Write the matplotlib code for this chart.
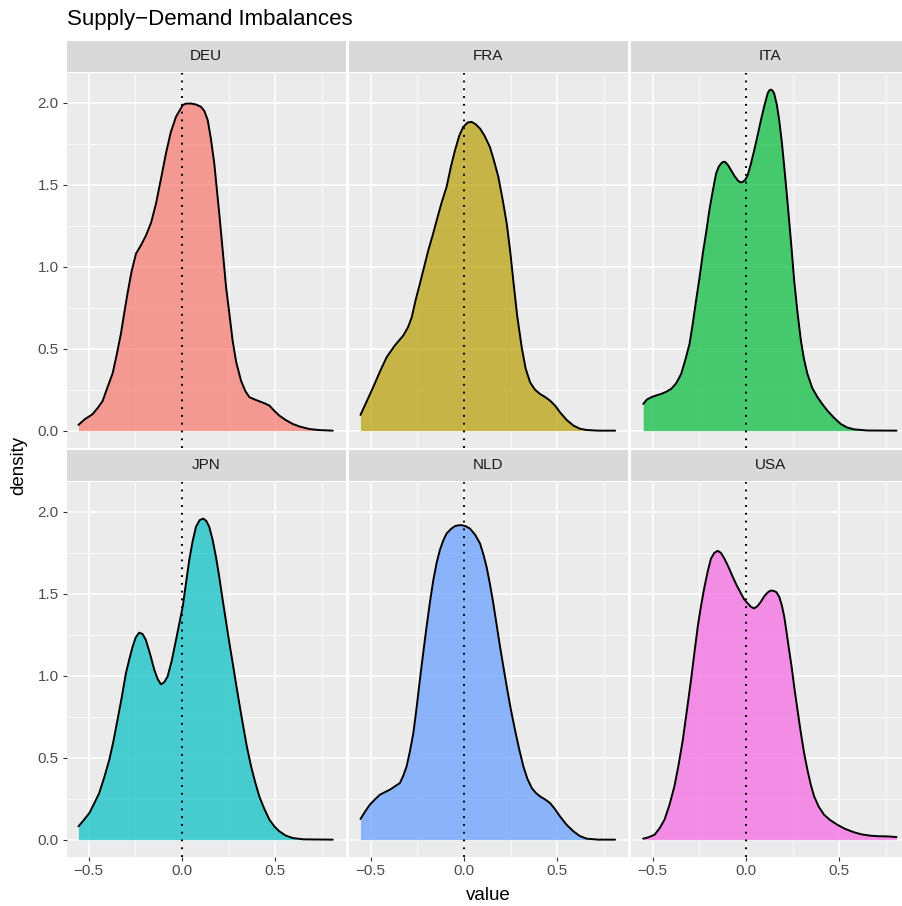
#!/usr/bin/env python3
"""Faceted density plot of supply-demand imbalances, one panel per country."""

import matplotlib

matplotlib.use("Agg")
import matplotlib.pyplot as plt
from matplotlib.ticker import FixedLocator

plt.rcParams["font.family"] = ["Liberation Sans", "DejaVu Sans"]

COUNTRIES = ["DEU", "FRA", "ITA", "JPN", "NLD", "USA"]
FILLS = ["#F8766D", "#B79F00", "#00BA38", "#00BFC4", "#619CFF", "#F564E3"]

deu_x = [-0.554, -0.52, -0.479, -0.45, -0.425, -0.40, -0.371, -0.35, -0.327, -0.31,
         -0.291, -0.27, -0.246, -0.22, -0.193, -0.165, -0.139, -0.11, -0.086, -0.06,
         -0.032, 0.004, 0.02, 0.048, 0.075, 0.102, 0.12, 0.138, 0.155, 0.173,
         0.186, 0.200, 0.218, 0.236, 0.25, 0.271, 0.29, 0.316, 0.34, 0.361,
         0.39, 0.414, 0.44, 0.468, 0.495, 0.521, 0.555, 0.593, 0.63, 0.682,
         0.73, 0.807]
deu_d = [0.035, 0.07, 0.10, 0.14, 0.18, 0.26, 0.35, 0.46, 0.59, 0.71,
         0.84, 0.97, 1.08, 1.13, 1.19, 1.27, 1.385, 1.55, 1.69, 1.82,
         1.915, 1.986, 1.995, 1.996, 1.99, 1.976, 1.95, 1.894, 1.78, 1.63,
         1.48, 1.32, 1.10, 0.876, 0.75, 0.55, 0.42, 0.305, 0.24, 0.204,
         0.19, 0.179, 0.168, 0.153, 0.12, 0.092, 0.065, 0.041, 0.025, 0.010,
         0.004, 0.0]

fra_x = [-0.554, -0.52, -0.486, -0.45, -0.414, -0.37, -0.325, -0.30, -0.28, -0.258,
         -0.236, -0.213, -0.191, -0.168, -0.146, -0.12, -0.093, -0.07, -0.048, -0.025,
         -0.004, 0.02, 0.041, 0.062, 0.086, 0.11, 0.139, 0.16, 0.184, 0.207,
         0.229, 0.247, 0.264, 0.285, 0.309, 0.33, 0.354, 0.38, 0.407, 0.435,
         0.461, 0.49, 0.514, 0.55, 0.586, 0.62, 0.657, 0.72, 0.809]
fra_d = [0.096, 0.18, 0.265, 0.36, 0.448, 0.52, 0.58, 0.63, 0.69, 0.80,
         0.896, 1.00, 1.10, 1.19, 1.283, 1.39, 1.487, 1.61, 1.71, 1.80,
         1.853, 1.88, 1.884, 1.87, 1.843, 1.80, 1.73, 1.65, 1.548, 1.41,
         1.263, 1.10, 0.916, 0.70, 0.509, 0.38, 0.295, 0.25, 0.224, 0.205,
         0.183, 0.15, 0.112, 0.065, 0.031, 0.012, 0.004, 0.0, 0.0]

ita_x = [-0.55, -0.53, -0.507, -0.48, -0.454, -0.427, -0.40, -0.373, -0.347, -0.325,
         -0.302, -0.285, -0.267, -0.249, -0.231, -0.213, -0.196, -0.178, -0.16, -0.146,
         -0.133, -0.122, -0.112, -0.096, -0.08, -0.062, -0.044, -0.031, -0.018, -0.004,
         0.009, 0.027, 0.044, 0.062, 0.08, 0.098, 0.116, 0.124, 0.133, 0.142,
         0.151, 0.165, 0.178, 0.192, 0.205, 0.218, 0.231, 0.245, 0.258, 0.276,
         0.294, 0.31, 0.329, 0.355, 0.383, 0.41, 0.436, 0.47, 0.507, 0.54,
         0.578, 0.65, 0.806]
ita_d = [0.163, 0.19, 0.204, 0.215, 0.224, 0.237, 0.255, 0.29, 0.346, 0.43,
         0.53, 0.65, 0.794, 0.93, 1.08, 1.21, 1.344, 1.46, 1.568, 1.61,
         1.63, 1.64, 1.64, 1.62, 1.59, 1.555, 1.527, 1.515, 1.517, 1.53,
         1.558, 1.63, 1.71, 1.80, 1.894, 1.98, 2.057, 2.075, 2.081, 2.075,
         2.057, 1.99, 1.894, 1.76, 1.609, 1.45, 1.283, 1.10, 0.916, 0.72,
         0.55, 0.44, 0.346, 0.26, 0.204, 0.16, 0.122, 0.08, 0.041, 0.02,
         0.008, 0.001, 0.0]

jpn_x = [-0.554, -0.525, -0.496, -0.47, -0.443, -0.416, -0.389, -0.367, -0.345, -0.322,
         -0.30, -0.282, -0.264, -0.247, -0.229, -0.211, -0.193, -0.17, -0.148, -0.13,
         -0.113, -0.095, -0.077, -0.055, -0.032, -0.014, 0.004, 0.021, 0.039, 0.057,
         0.075, 0.095, 0.114, 0.13, 0.146, 0.164, 0.182, 0.2, 0.218, 0.236,
         0.254, 0.272, 0.289, 0.307, 0.325, 0.347, 0.37, 0.392, 0.414, 0.44,
         0.468, 0.495, 0.521, 0.555, 0.593, 0.65, 0.807]
jpn_d = [0.081, 0.12, 0.162, 0.22, 0.284, 0.38, 0.487, 0.60, 0.731, 0.87,
         1.015, 1.10, 1.178, 1.235, 1.263, 1.255, 1.218, 1.13, 1.036, 0.98,
         0.948, 0.96, 0.995, 1.09, 1.218, 1.32, 1.421, 1.56, 1.706, 1.82,
         1.909, 1.95, 1.959, 1.945, 1.909, 1.83, 1.726, 1.60, 1.462, 1.33,
         1.198, 1.075, 0.954, 0.83, 0.711, 0.57, 0.447, 0.35, 0.264, 0.19,
         0.122, 0.08, 0.051, 0.025, 0.010, 0.002, 0.0]

nld_x = [-0.554, -0.53, -0.504, -0.477, -0.45, -0.423, -0.396, -0.37, -0.343, -0.325,
         -0.307, -0.289, -0.271, -0.254, -0.236, -0.218, -0.2, -0.182, -0.164, -0.146,
         -0.129, -0.111, -0.093, -0.07, -0.048, -0.03, -0.013, 0.01, 0.032, 0.06,
         0.086, 0.104, 0.121, 0.139, 0.157, 0.175, 0.193, 0.211, 0.229, 0.25,
         0.273, 0.296, 0.318, 0.34, 0.363, 0.385, 0.407, 0.435, 0.461, 0.488,
         0.514, 0.55, 0.586, 0.62, 0.657, 0.72, 0.809]
nld_d = [0.126, 0.17, 0.213, 0.245, 0.274, 0.29, 0.305, 0.325, 0.345, 0.39,
         0.447, 0.54, 0.65, 0.80, 0.975, 1.14, 1.30, 1.45, 1.584, 1.69,
         1.767, 1.825, 1.868, 1.895, 1.913, 1.918, 1.919, 1.912, 1.898, 1.86,
         1.807, 1.74, 1.665, 1.56, 1.442, 1.31, 1.178, 1.055, 0.934, 0.80,
         0.67, 0.55, 0.447, 0.37, 0.315, 0.285, 0.264, 0.245, 0.223, 0.185,
         0.142, 0.09, 0.051, 0.022, 0.006, 0.0, 0.0]

usa_x = [-0.55, -0.52, -0.489, -0.462, -0.436, -0.41, -0.383, -0.36, -0.338, -0.316,
         -0.294, -0.276, -0.258, -0.24, -0.222, -0.204, -0.187, -0.169, -0.151, -0.134,
         -0.116, -0.094, -0.071, -0.049, -0.027, -0.009, 0.009, 0.027, 0.044, 0.062,
         0.08, 0.098, 0.116, 0.132, 0.148, 0.163, 0.178, 0.192, 0.205, 0.218,
         0.231, 0.245, 0.258, 0.276, 0.294, 0.311, 0.329, 0.347, 0.365, 0.39,
         0.418, 0.45, 0.489, 0.53, 0.578, 0.62, 0.667, 0.71, 0.756, 0.806]
usa_d = [0.006, 0.015, 0.03, 0.07, 0.122, 0.21, 0.325, 0.46, 0.609, 0.79,
         0.975, 1.14, 1.30, 1.43, 1.543, 1.64, 1.716, 1.75, 1.762, 1.75,
         1.716, 1.665, 1.604, 1.55, 1.503, 1.465, 1.442, 1.42, 1.411, 1.425,
         1.452, 1.485, 1.508, 1.52, 1.518, 1.51, 1.482, 1.43, 1.36, 1.26,
         1.157, 1.05, 0.934, 0.79, 0.65, 0.53, 0.426, 0.335, 0.264, 0.2,
         0.152, 0.12, 0.091, 0.066, 0.045, 0.032, 0.024, 0.021, 0.020, 0.016]

SERIES = {
    "DEU": (deu_x, deu_d),
    "FRA": (fra_x, fra_d),
    "ITA": (ita_x, ita_d),
    "JPN": (jpn_x, jpn_d),
    "NLD": (nld_x, nld_d),
    "USA": (usa_x, usa_d),
}

X_MAJOR = [-0.5, 0.0, 0.5]
X_MINOR = [-0.25, 0.25, 0.75]
X_LABELS = ["\u22120.5", "0.0", "0.5"]
Y_MAJOR = [0.0, 0.5, 1.0, 1.5, 2.0]
Y_MINOR = [0.25, 0.75, 1.25, 1.75]
Y_LABELS = ["0.0", "0.5", "1.0", "1.5", "2.0"]

W, H = 902, 906
PANEL_LEFT = [66.5, 348.5, 630.5]
PANEL_W = 279.5
PANEL_TOP = [72.7, 481.7]
PANEL_H = 375.0
STRIP_H = 31.5


def fig_rect(left, top, width, height):
    return [left / W, 1 - (top + height) / H, width / W, height / H]


fig = plt.figure(figsize=(W / 100, H / 100), dpi=100)
fig.patch.set_facecolor("white")

for i, country in enumerate(COUNTRIES):
    row, col = divmod(i, 3)
    left = PANEL_LEFT[col]
    top = PANEL_TOP[row]

    ax = fig.add_axes(fig_rect(left, top, PANEL_W, PANEL_H))
    ax.set_facecolor("#EBEBEB")
    for spine in ax.spines.values():
        spine.set_visible(False)

    ax.set_xlim(-0.618, 0.878)
    ax.set_ylim(-0.104, 2.184)

    ax.xaxis.set_major_locator(FixedLocator(X_MAJOR))
    ax.xaxis.set_minor_locator(FixedLocator(X_MINOR))
    ax.yaxis.set_major_locator(FixedLocator(Y_MAJOR))
    ax.yaxis.set_minor_locator(FixedLocator(Y_MINOR))
    ax.grid(True, which="major", color="white", linewidth=1.1)
    ax.grid(True, which="minor", color="white", linewidth=0.55)
    ax.set_axisbelow(True)

    ax.tick_params(which="minor", length=0)
    ax.tick_params(which="major", length=3, width=0.8, color="#333333",
                   labelcolor="#4D4D4D", labelsize=11, pad=2.5)

    if col == 0:
        ax.set_yticklabels(Y_LABELS)
    else:
        ax.tick_params(axis="y", which="major", length=0, labelleft=False)
    if row == 1:
        ax.set_xticklabels(X_LABELS)
    else:
        ax.tick_params(axis="x", which="major", length=0, labelbottom=False)

    xs, ds = SERIES[country]
    ax.fill_between(xs, 0, ds, color=FILLS[i], alpha=0.7, linewidth=0, zorder=2)
    ax.plot(xs, ds, color="black", linewidth=1.4, zorder=3,
            solid_joinstyle="round", solid_capstyle="round")
    ax.axvline(0, color="black", linestyle=(0, (1, 3)), linewidth=1.4, zorder=4)

    strip = fig.add_axes(fig_rect(left, top - STRIP_H - 0.5, PANEL_W, STRIP_H))
    strip.set_facecolor("#D9D9D9")
    strip.set_xticks([])
    strip.set_yticks([])
    for spine in strip.spines.values():
        spine.set_visible(False)
    strip.text(0.5, 0.5, country, ha="center", va="center",
               fontsize=11, color="#1A1A1A", transform=strip.transAxes)

fig.text(67 / W, 1 - 19 / H, "Supply\u2212Demand Imbalances", ha="left",
         va="center", fontsize=16, color="black")
fig.text(488 / W, 1 - 895 / H, "value", ha="center", va="center",
         fontsize=13.5, color="black")
fig.text(19 / W, 1 - 465 / H, "density", ha="center", va="center",
         rotation=90, fontsize=13.5, color="black")

fig.savefig("out.png", dpi=100)
